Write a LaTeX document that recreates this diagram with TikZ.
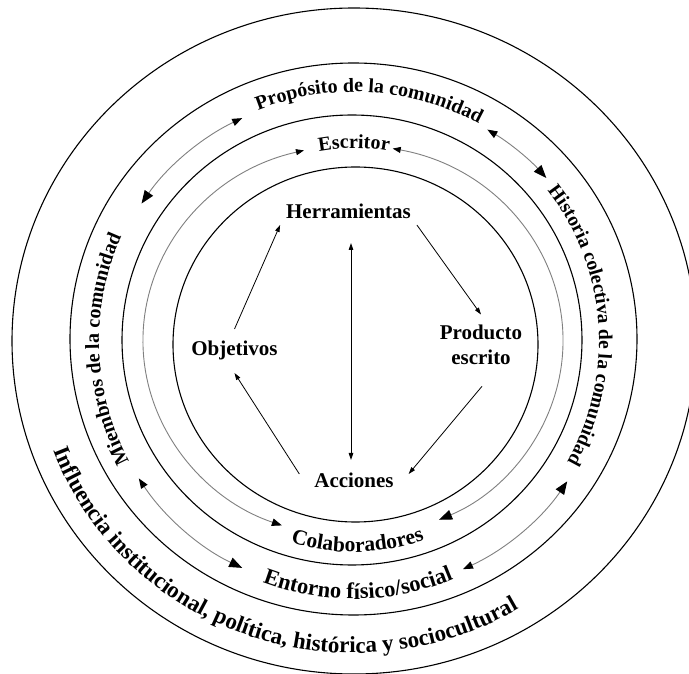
\documentclass[tikz,border=0pt]{standalone}
\usepackage{fontspec}
\setmainfont{Liberation Serif}
\usetikzlibrary{arrows.meta,decorations.text,calc}

\tikzset{
  bigtip/.tip={Triangle[length=13pt,width=10pt,color=black]},
  medtip/.tip={Triangle[length=10pt,width=7.5pt,color=black]},
  smalltip/.tip={Triangle[length=8pt,width=6pt,color=black]},
  thintip/.tip={Triangle[length=7pt,width=4.5pt]},
  ring/.style={line width=1.1pt},
  garc/.style={draw=black!50, line width=0.9pt},
  flow/.style={line width=0.8pt, -thintip},
  lbl/.style={font=\fontsize{21}{25}\selectfont\bfseries, inner sep=0pt, outer sep=0pt},
  onearc/.style={decorate, decoration={text along path, text align=center, text={#1}}}
}

\begin{document}
\begin{tikzpicture}[x=1pt,y=1pt]
\useasboundingbox (0,0) rectangle (689,673);
\fill[white] (0,0) rectangle (689,673);

% centres of the rings
\coordinate (o)  at (354,332);   % outer circle, lower labels
\coordinate (ot) at (354,330);   % upper outer labels and outer double arrows
\coordinate (ig) at (353,332);   % inner double arrows

% concentric rings
\draw[ring] (354,332)   ellipse [x radius=342,   y radius=333];
\draw[ring] (353.5,334) ellipse [x radius=283.5, y radius=276];
\draw[ring] (352,333)   ellipse [x radius=230,   y radius=225];
\draw[ring] (355.5,328.5) ellipse [x radius=182.5, y radius=177.5];

% curved labels
\path[onearc={|\fontsize{20}{24}\selectfont\bfseries|Propósito de la comunidad}]
  ($(ot)+(126.4:257 and 251)$) arc[start angle=126.4, end angle=46.4, x radius=257, y radius=251];
\path[onearc={|\fontsize{19.5}{24}\selectfont\bfseries|Historia colectiva de la comunidad}]
  ($(o)+(54.2:245)$) arc[start angle=54.2, end angle=-45.8, radius=245];
\path[onearc={|\fontsize{20}{24}\selectfont\bfseries|Miembros de la comunidad}]
  ($(o)+(227:255)$) arc[start angle=227, end angle=137, radius=255];
\path[onearc={|\fontsize{20}{24}\selectfont\bfseries|Escritor}]
  ($(o)+(120:193)$) arc[start angle=120, end angle=60, radius=193];
\path[onearc={|\fontsize{21.5}{24}\selectfont\bfseries|Colaboradores}]
  ($(o)+(241:211)$) arc[start angle=241, end angle=301, radius=211];
\path[onearc={|\fontsize{22.5}{26}\selectfont\bfseries|Entorno físico/social}]
  ($(o)+(236:258)$) arc[start angle=236, end angle=306, radius=258];
\path[onearc={|\fontsize{23}{27}\selectfont\bfseries|Influencia institucional, política, histórica y sociocultural}]
  ($(o)+(185.6:321 and 312)$) arc[start angle=185.6, end angle=315.6, x radius=321, y radius=312];

% end points of the grey double arrows
\coordinate (a2) at ($(ot)+(146.1:256 and 250)$);
\coordinate (a3) at ($(ot)+(58.6:256 and 250)$);
\coordinate (a5) at ($(ot)+(212.8:256 and 250)$);
\coordinate (a7) at ($(ot)+(295.2:256 and 250)$);
\coordinate (b1) at ($(ig)+(103.5:210 and 196)$);
\coordinate (b3) at ($(ig)+(79.1:210 and 196)$);

% outer ring exchanges
\draw[garc, bigtip-medtip] (a2) arc[start angle=146.1, end angle=115.9, x radius=256, y radius=250];
\draw[garc, medtip-bigtip] (a3) arc[start angle=58.6, end angle=41.3, x radius=256, y radius=250];
\draw[garc, medtip-bigtip] (a5) arc[start angle=212.8, end angle=244.1, x radius=256, y radius=250];
\draw[garc, medtip-bigtip] (a7) arc[start angle=295.2, end angle=326.4, x radius=256, y radius=250];

% inner ring exchanges
\draw[garc, smalltip-medtip] (b1) arc[start angle=103.5, end angle=250.2, x radius=210, y radius=196];
\draw[garc, smalltip-bigtip] (b3) arc[start angle=79.1, end angle=-65.8, x radius=210, y radius=196];

% activity triangle
\node[lbl, text height=14pt, text depth=4pt, outer xsep=6pt, outer ysep=2pt] (herr) at (348.5,459) {Herramientas};
\node[lbl, text height=14pt, text depth=4pt, outer ysep=13pt] (obj) at (234.5,322) {Objetivos};
\node[lbl, align=center, outer ysep=10pt] (prod) at (481,328.6) {Producto\\escrito};
\node[lbl, text height=14pt, text depth=4pt, outer xsep=15pt] (acc) at (354,190) {Acciones};

\draw[flow] (obj.north) -- (herr.south west);
\draw[flow] (herr.south east) -- (prod.north);
\draw[flow] ($(prod.south)+(1,-12)$) -- (acc.north east);
\draw[flow] (acc.north west) -- (obj.south);
\draw[line width=0.8pt, thintip-thintip] ($(herr.south)+(2.5,-18)$) -- ($(acc.north)+(-3,14)$);
\end{tikzpicture}
\end{document}
